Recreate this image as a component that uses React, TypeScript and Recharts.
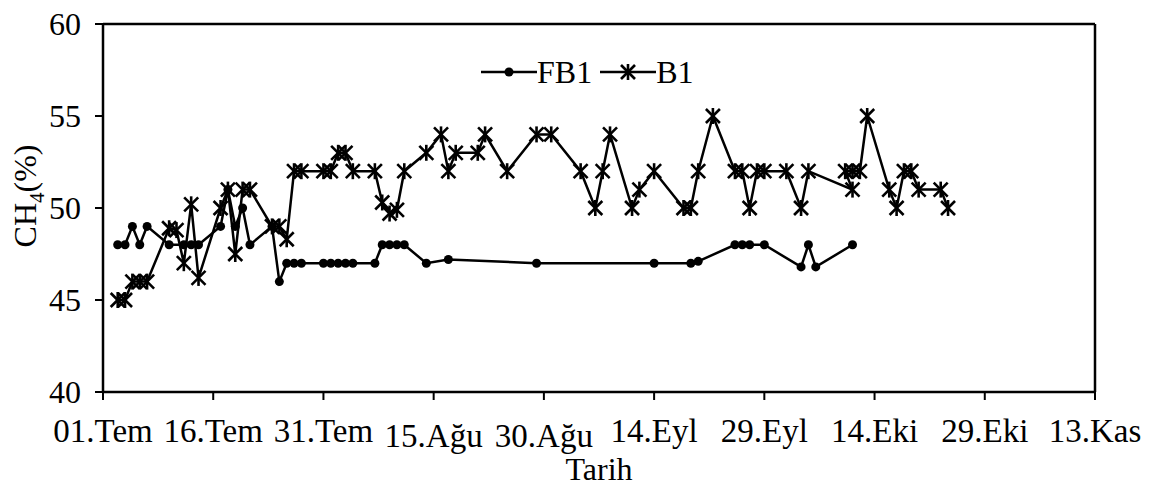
import { Line, LineChart, ReferenceLine, XAxis, YAxis } from "recharts";

// days counted from 01.Tem
const fb1Days = [2, 3, 4, 5, 6, 9, 11, 12, 13, 16, 17, 18, 19, 20, 23, 24, 25, 26, 27, 30, 31, 32, 33, 34, 37, 38, 39, 40, 41, 44, 47, 59, 75, 80, 81, 86, 87, 88, 90, 95, 96, 97, 102];
const fb1Values = [48, 48, 49, 48, 49, 48, 48, 48, 48, 49, 51, 49, 50, 48, 49, 46, 47, 47, 47, 47, 47, 47, 47, 47, 47, 48, 48, 48, 48, 47, 47.2, 47, 47, 47, 47.1, 48, 48, 48, 48, 46.8, 48, 46.8, 48];

const b1Days = [2, 3, 4, 5, 6, 9, 10, 11, 12, 13, 16, 17, 18, 19, 20, 23, 24, 25, 26, 27, 30, 31, 32, 33, 34, 37, 38, 39, 40, 41, 44, 46, 47, 48, 51, 52, 55, 59, 61, 65, 67, 68, 69, 72, 73, 75, 79, 80, 81, 83, 86, 87, 88, 89, 90, 93, 95, 96, 102, 101, 102, 103, 104, 107, 108, 109, 110, 111, 114, 115];
const b1Values = [45, 45, 46, 46, 46, 48.9, 48.8, 47, 50.2, 46.2, 50, 51, 47.5, 51, 51, 49, 49, 48.3, 52, 52, 52, 52, 53, 53, 52, 52, 50.3, 49.7, 49.9, 52, 53, 54, 52, 53, 53, 54, 52, 54, 54, 52, 50, 52, 54, 50, 51, 52, 50, 50, 52, 55, 52, 52, 50, 52, 52, 52, 50, 52, 51, 52, 52, 52, 55, 51, 50, 52, 52, 51, 51, 50];

const xTicks = [0, 15, 30, 45, 60, 75, 90, 105, 120, 135];
const xTickLabels = ["01.Tem", "16.Tem", "31.Tem", "15.Ağu", "30.Ağu", "14.Eyl", "29.Eyl", "14.Eki", "29.Eki", "13.Kas"];
const yTicks = [40, 45, 50, 55, 60];

const fb1 = fb1Days.map((day, i) => ({ day, value: fb1Values[i] }));
const b1 = b1Days.map((day, i) => ({ day, value: b1Values[i] }));

const FONT = "'Times New Roman', Times, Tinos, 'Liberation Serif', 'DejaVu Serif', 'Noto Serif', serif";
const INK = "#000";
const FS = 32;

function StarDot(props: any) {
  const { cx, cy, index } = props;
  if (cx == null || cy == null) return null;
  return (
    <g key={`s${index}`} stroke={INK} strokeWidth={2.6}>
      <line x1={cx - 7} y1={cy - 7} x2={cx + 7} y2={cy + 7} />
      <line x1={cx - 7} y1={cy + 7} x2={cx + 7} y2={cy - 7} />
      <line x1={cx} y1={cy - 8} x2={cx} y2={cy + 8} />
    </g>
  );
}

function XTick(props: any) {
  const { x, y, payload } = props;
  const i = xTicks.indexOf(payload.value);
  const label = xTickLabels[i] ?? "";
  // the "Ağu" labels sit a bit lower in the original
  const drop = label.includes("Ağu") ? 5 : 0;
  return (
    <text x={x} y={y + 40 + drop} textAnchor="middle" fill={INK} fontSize={33} style={{ fontFamily: FONT }}>
      {label}
    </text>
  );
}

function YTick(props: any) {
  const { x, y, payload } = props;
  return (
    <text x={x} y={y + 11} textAnchor="end" fill={INK} fontSize={FS} style={{ fontFamily: FONT }}>
      {payload.value}
    </text>
  );
}

function YLabel() {
  return (
    <text transform="translate(36, 196) rotate(-90)" textAnchor="middle" fill={INK} fontSize={FS} style={{ fontFamily: FONT }}>
      CH
      <tspan fontSize={21} dy={8}>4</tspan>
      <tspan dy={-8}>(%)</tspan>
    </text>
  );
}

function LegendBox() {
  return (
    <div
      style={{
        position: "absolute",
        left: 481,
        top: 52,
        display: "flex",
        alignItems: "center",
        fontFamily: FONT,
        fontSize: FS,
        color: INK,
        lineHeight: "40px",
      }}
    >
      <svg width={56} height={20}>
        <line x1={0} y1={10} x2={56} y2={10} stroke={INK} strokeWidth={2.5} />
        <circle cx={28} cy={10} r={4.5} fill={INK} />
      </svg>
      <span style={{ marginRight: 8 }}>FB1</span>
      <svg width={56} height={20}>
        <line x1={0} y1={10} x2={56} y2={10} stroke={INK} strokeWidth={2.5} />
        <g stroke={INK} strokeWidth={2.6}>
          <line x1={21} y1={3} x2={35} y2={17} />
          <line x1={21} y1={17} x2={35} y2={3} />
          <line x1={28} y1={2} x2={28} y2={18} />
        </g>
      </svg>
      <span>B1</span>
    </div>
  );
}

export default function App() {
  return (
    <div style={{ position: "absolute", left: 0, top: 0, width: 1150, height: 488, background: "#fff" }}>
      <LineChart width={1150} height={488} margin={{ top: 24, right: 55, left: 0, bottom: 0 }}>
        <XAxis
          dataKey="day"
          type="number"
          domain={[0, 135]}
          ticks={xTicks}
          tick={<XTick />}
          tickSize={8}
          height={96}
          axisLine={{ stroke: INK, strokeWidth: 2.5 }}
          tickLine={{ stroke: INK, strokeWidth: 2 }}
          allowDuplicatedCategory
        />
        <YAxis
          type="number"
          domain={[40, 60]}
          ticks={yTicks}
          width={103}
          tickSize={8}
          tickMargin={14}
          tick={<YTick />}
          axisLine={{ stroke: INK, strokeWidth: 2.5 }}
          tickLine={{ stroke: INK, strokeWidth: 2 }}
          label={<YLabel />}
        />
        <ReferenceLine y={60} stroke={INK} strokeWidth={2.5} />
        <ReferenceLine x={135} stroke={INK} strokeWidth={2.5} />
        <Line
          data={fb1}
          dataKey="value"
          name="FB1"
          stroke={INK}
          strokeWidth={2.5}
          dot={{ r: 4.5, fill: INK, stroke: INK, strokeWidth: 0 }}
          isAnimationActive={false}
        />
        <Line
          data={b1}
          dataKey="value"
          name="B1"
          stroke={INK}
          strokeWidth={2.5}
          dot={<StarDot />}
          isAnimationActive={false}
        />
      </LineChart>
      <LegendBox />
      <div
        style={{
          position: "absolute",
          left: 0,
          width: 1198,
          top: 451,
          textAlign: "center",
          fontFamily: FONT,
          fontSize: FS,
          color: INK,
          lineHeight: "36px",
        }}
      >
        Tarih
      </div>
    </div>
  );
}
